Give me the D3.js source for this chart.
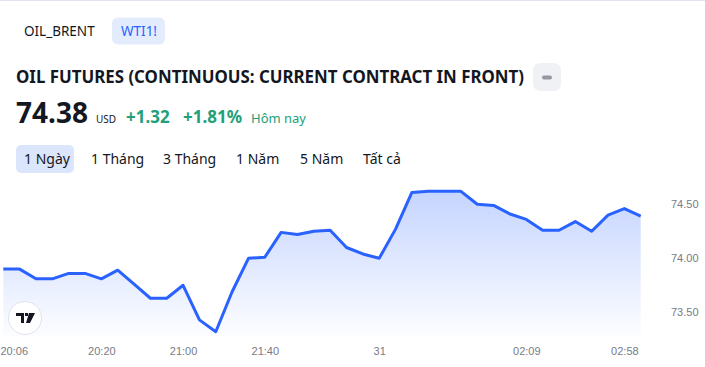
<!DOCTYPE html>
<html>
<head>
<meta charset="utf-8">
<script src="https://cdn.jsdelivr.net/npm/d3@7"></script>
<style>
  html, body { margin: 0; padding: 0; background: #fff; }
  svg { display: block; font-family: "Noto Sans", "Open Sans", sans-serif; }
</style>
</head>
<body>
<svg id="chart"></svg>
<script>
// price points, one every few minutes
const prices = [
    73.90, 73.90, 73.81, 73.81, 73.86, 73.86, 73.81, 73.89, 73.76, 73.63,
    73.63, 73.75, 73.43, 73.32, 73.69, 74.00, 74.01, 74.24, 74.22, 74.25,
    74.26, 74.10, 74.04, 74.00, 74.27, 74.61, 74.62, 74.62, 74.62, 74.50,
    74.49, 74.41, 74.36, 74.26, 74.26, 74.34, 74.25, 74.40, 74.46, 74.39
];
const timeTickIndex = [0, 6, 11, 16, 23, 32, 38];
const timeTickLabels = ["20:06", "20:20", "21:00", "21:40", "31", "02:09", "02:58"];
const priceTicks = [73.5, 74.0, 74.5];

const symbols = ["OIL_BRENT", "WTI1!"];
const ranges = ["1 Ngày", "1 Tháng", "3 Tháng", "1 Năm", "5 Năm", "Tất cả"];
const lastPrice = "74.38";

const width = 705, height = 367;
const svg = d3.select("#chart").attr("width", width).attr("height", height);

// thin border on top
svg.append("rect").attr("x", 0).attr("y", 0).attr("width", width).attr("height", 1).attr("fill", "#e0e3eb");

// symbol tabs
const symX = [24, 121];
svg.append("rect")
    .attr("x", 112).attr("y", 17.5).attr("width", 53).attr("height", 27).attr("rx", 6)
    .attr("fill", "#e3ecfd");
symbols.forEach((s, i) => {
    svg.append("text")
        .attr("x", symX[i]).attr("y", 36)
        .attr("font-size", 13.5)
        .attr("fill", i === 1 ? "#2962ff" : "#131722")
        .text(s);
});

// title
svg.append("text")
    .attr("x", 16).attr("y", 83)
    .attr("font-size", 18.5).attr("font-weight", "bold").attr("fill", "#131722")
    .attr("textLength", 508).attr("lengthAdjust", "spacingAndGlyphs")
    .text("OIL FUTURES (CONTINUOUS: CURRENT CONTRACT IN FRONT)");
svg.append("rect")
    .attr("x", 533).attr("y", 63).attr("width", 28).attr("height", 28).attr("rx", 7)
    .attr("fill", "#f0f1f4");
svg.append("rect")
    .attr("x", 542).attr("y", 75.5).attr("width", 10).attr("height", 4).attr("rx", 2)
    .attr("fill", "#9598a1");

// quote line
svg.append("text")
    .attr("x", 16).attr("y", 123)
    .attr("font-size", 28).attr("font-weight", "bold").attr("fill", "#131722")
    .text(lastPrice);
svg.append("text")
    .attr("x", 96).attr("y", 123)
    .attr("font-size", 10).attr("fill", "#131722")
    .text("USD");
const green = "#22a079";
svg.append("text").attr("x", 126).attr("y", 123)
    .attr("font-size", 17).attr("font-weight", "bold").attr("fill", green).text("+1.32");
svg.append("text").attr("x", 183).attr("y", 123)
    .attr("font-size", 17).attr("font-weight", "bold").attr("fill", green).text("+1.81%");
svg.append("text").attr("x", 251).attr("y", 123)
    .attr("font-size", 13).attr("fill", green).text("Hôm nay");

// range buttons
const rangeX = [24, 91, 163, 236, 300, 363];
svg.append("rect")
    .attr("x", 16).attr("y", 145).attr("width", 58).attr("height", 28).attr("rx", 5)
    .attr("fill", "#dbe5fb");
ranges.forEach((r, i) => {
    svg.append("text")
        .attr("x", rangeX[i]).attr("y", 164)
        .attr("font-size", 14).attr("fill", "#131722")
        .text(r);
});

// chart
const plotBottom = 337;
const x = d3.scaleLinear().domain([0, prices.length - 1]).range([3.3, 640.7]);
const y = d3.scaleLinear().domain([73.5, 74.5]).range([312.3, 204.3]);

const defs = svg.append("defs");
const grad = defs.append("linearGradient")
    .attr("id", "fill").attr("gradientUnits", "userSpaceOnUse")
    .attr("x1", 0).attr("x2", 0).attr("y1", 185).attr("y2", plotBottom);
grad.append("stop").attr("offset", 0).attr("stop-color", "#2962ff").attr("stop-opacity", 0.28);
grad.append("stop").attr("offset", 1).attr("stop-color", "#2962ff").attr("stop-opacity", 0.01);

svg.append("path")
    .datum(prices)
    .attr("fill", "url(#fill)")
    .attr("d", d3.area().x((d, i) => x(i)).y0(plotBottom).y1(d => y(d)));

svg.append("path")
    .datum(prices)
    .attr("fill", "none")
    .attr("stroke", "#2962ff")
    .attr("stroke-width", 3)
    .attr("stroke-linejoin", "round")
    .attr("d", d3.line().x((d, i) => x(i)).y(d => y(d)));

// price axis
const yAxis = svg.append("g")
    .attr("transform", "translate(671,0)")
    .call(d3.axisRight(y).tickValues(priceTicks).tickSize(0).tickPadding(0).tickFormat(d3.format(".2f")));
yAxis.select(".domain").remove();
yAxis.selectAll("text").attr("font-size", 11).attr("fill", "#787b86").attr("font-family", "inherit");

// time axis
const xAxis = svg.append("g")
    .attr("transform", "translate(0,347)")
    .call(d3.axisBottom(x).tickValues(timeTickIndex).tickSize(0).tickPadding(0)
        .tickFormat((d, i) => timeTickLabels[i]));
xAxis.select(".domain").remove();
xAxis.selectAll("text").attr("font-size", 11).attr("fill", "#787b86").attr("font-family", "inherit");
// first label sticks to the left edge
xAxis.selectAll(".tick").filter((d, i) => i === 0).select("text").attr("text-anchor", "start").attr("x", -3.3);

// tradingview badge
const logo = svg.append("g").attr("transform", "translate(25,318)");
logo.append("circle").attr("r", 16.5).attr("fill", "#fff").attr("stroke", "#e0e3eb");
logo.append("path").attr("fill", "#131722")
    .attr("d", "M-9,-5 H-1 V5 H-4 V-2 H-9 Z M0,-5 H3 V-2 H0 Z M4,-5 H10 L5,5 H1 Z");
</script>
</body>
</html>
